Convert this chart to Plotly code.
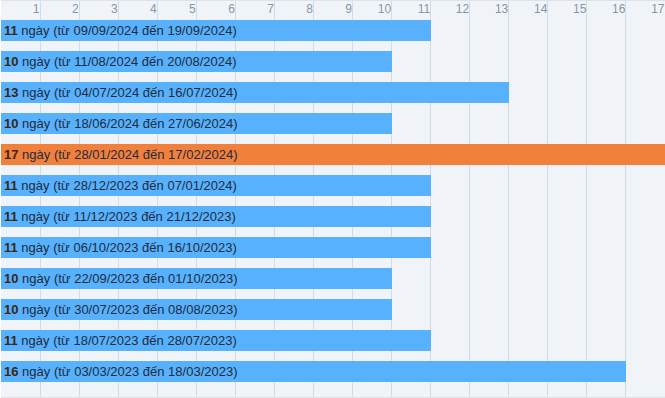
import plotly.graph_objects as go

durations = [11, 10, 13, 10, 17, 11, 11, 11, 10, 10, 11, 16]
start_dates = ["09/09/2024", "11/08/2024", "04/07/2024", "18/06/2024", "28/01/2024",
               "28/12/2023", "11/12/2023", "06/10/2023", "22/09/2023", "30/07/2023",
               "18/07/2023", "03/03/2023"]
end_dates = ["19/09/2024", "20/08/2024", "16/07/2024", "27/06/2024", "17/02/2024",
             "07/01/2024", "21/12/2023", "16/10/2023", "01/10/2023", "08/08/2023",
             "28/07/2023", "18/03/2023"]
tick_vals = list(range(1, 18))

rows = list(range(len(durations)))
max_d = max(durations)
colors = ["#f0803c" if d == max_d else "#58b1fc" for d in durations]
texts = [f"<span style='color:#3a2810'><b>{d}</b></span> ngày (từ {s} đến {e})"
         for d, s, e in zip(durations, start_dates, end_dates)]

fig = go.Figure(go.Bar(
    x=durations, y=rows, orientation="h",
    marker=dict(color=colors, line=dict(width=0)),
    width=0.68,
    text=texts, textposition="inside", insidetextanchor="start",
    constraintext="none", cliponaxis=False,
    textfont=dict(family="Liberation Sans, Arial, sans-serif", size=13, color="#1e2c3c"),
    hoverinfo="skip",
))

fig.update_layout(
    width=665, height=398,
    margin=dict(l=1, r=0, t=1, b=1),
    paper_bgcolor="#ffffff",
    plot_bgcolor="#f0f4f8",
    showlegend=False,
    bargap=0,
    font=dict(family="Liberation Sans, Arial, sans-serif"),
)
fig.update_xaxes(
    range=[0, 17], side="top",
    tickvals=tick_vals, ticktext=[str(v) for v in tick_vals],
    ticklabelposition="inside left",
    tickfont=dict(size=12, color="#8796a6"),
    showgrid=True, gridcolor="#d3dbe3", gridwidth=1,
    zeroline=False,
    showline=True, mirror=True, linecolor="#dde3e9", linewidth=1,
    ticks="",
)
fig.update_yaxes(
    range=[11.823, -0.952],
    showticklabels=False, showgrid=False, zeroline=False, showline=False,
)

fig.write_html("out.html", config={"displayModeBar": False},
               post_script="document.body.style.margin='0';document.body.style.overflow='hidden';")
